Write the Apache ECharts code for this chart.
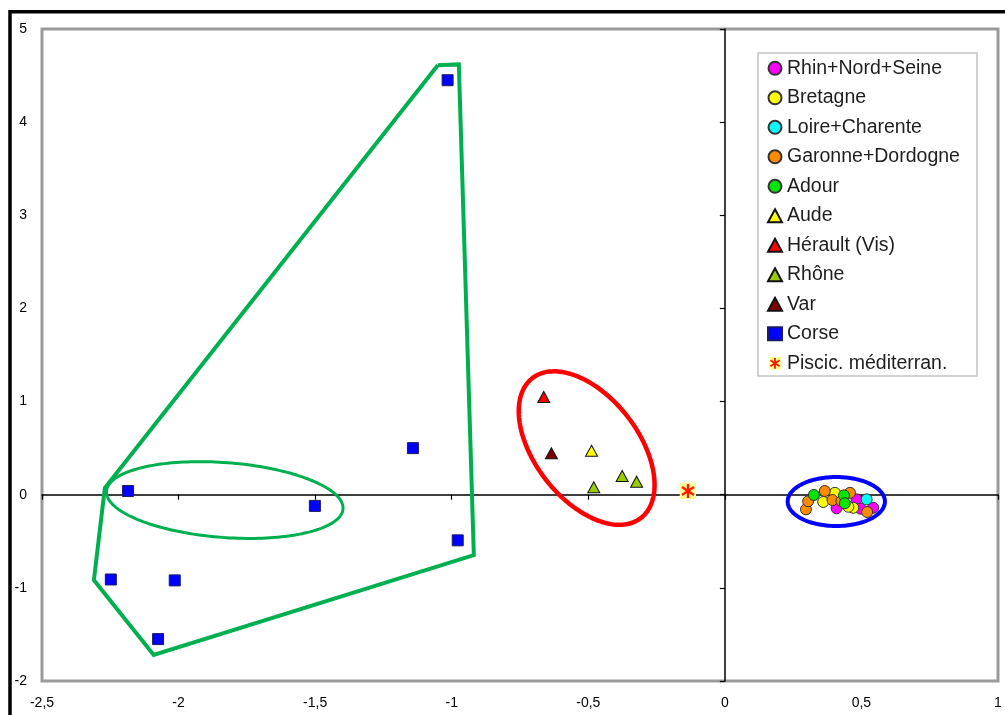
<!DOCTYPE html>
<html><head><meta charset="utf-8">
<script src="https://cdn.jsdelivr.net/npm/echarts@6/dist/echarts.min.js"></script>
<style>html,body{margin:0;padding:0;background:#fff}#c{width:1005px;height:715px}</style>
</head><body><div id="c"></div>
<script>
// ---- axis ticks ----
const X_TICKS = [-2.5, -2, -1.5, -1, -0.5, 0, 0.5, 1];
const Y_TICKS = [-2, -1, 0, 1, 2, 3, 4, 5];

// ---- series values [x, y] ----
const rhin     = [[0.409,-0.146],[0.482,-0.05],[0.497,-0.15],[0.543,-0.14]];
const bretagne = [[0.36,-0.078],[0.403,0.02],[0.47,-0.14],[0.452,-0.129]];
const loire    = [[0.519,-0.05]];
const garonne  = [[0.297,-0.157],[0.305,-0.07],[0.366,0.04],[0.394,-0.057],[0.427,-0.068],[0.458,0.02],[0.521,-0.186]];
const adour    = [[0.326,-0.003],[0.436,-0.007],[0.439,-0.092]];
const aude     = [[-0.488,0.472]];
const herault  = [[-0.663,1.05]];
const rhone    = [[-0.48,0.08],[-0.376,0.20],[-0.323,0.14]];
const varS     = [[-0.635,0.445]];
const corse    = [[-1.015,4.45],[-1.142,0.50],[-0.978,-0.49],[-1.501,-0.12],[-2.185,0.04],[-2.248,-0.91],[-2.014,-0.92],[-2.075,-1.55]];
const piscic   = [[-0.135,0.04]];

const NAMES = ['Rhin+Nord+Seine','Bretagne','Loire+Charente','Garonne+Dordogne','Adour','Aude','Hérault (Vis)','Rhône','Var','Corse','Piscic. méditerran.'];

// ---- annotation shapes (data coordinates) ----
const corseHull = [[-1.051,4.61],[-0.974,4.62],[-0.919,-0.648],[-2.091,-1.72],[-2.310,-0.916],[-2.270,0.072],[-1.051,4.61]];
const greenEllipse = {c:[-1.831,-0.057], u:[0.433,-0.0956], v:[-0.0103,-0.401]};
const redEllipse   = {c:[-0.506,0.501],  u:[0.199,-0.750],  v:[-0.149,-0.341]};
const blueEllipse  = {c:[0.408,-0.073],  u:[0.178,0],       v:[0,0.263]};

const FONT = 'Liberation Sans';
const fmt = v => String(v).replace('.', ',');

const starSvg = "<svg xmlns='http://www.w3.org/2000/svg' width='17' height='17' viewBox='0 0 17 17'>" +
  "<rect width='17' height='17' fill='#ffff99'/>" +
  "<g stroke='#ff1a00' stroke-width='2.4' stroke-linecap='butt'>" +
  "<line x1='8.5' y1='1.5' x2='8.5' y2='15.5'/><line x1='2.5' y1='4.5' x2='14.5' y2='12.5'/><line x1='14.5' y1='4.5' x2='2.5' y2='12.5'/></g></svg>";
const starSymbol = 'image://data:image/svg+xml;charset=utf-8,' + encodeURIComponent(starSvg);

function ellipseSeries(el, color, width) {
  return {
    type: 'custom', silent: true, clip: false, z: 2,
    data: [[el.c[0], el.c[1]]],
    renderItem: function (params, api) {
      const pts = [];
      for (let i = 0; i <= 180; i++) {
        const t = i / 180 * 2 * Math.PI;
        const x = el.c[0] + el.u[0] * Math.cos(t) + el.v[0] * Math.sin(t);
        const y = el.c[1] + el.u[1] * Math.cos(t) + el.v[1] * Math.sin(t);
        pts.push(api.coord([x, y]));
      }
      return {type: 'polygon', shape: {points: pts}, style: {fill: 'none', stroke: color, lineWidth: width}};
    }
  };
}

function circ(name, data, color) {
  return {name, type: 'scatter', data, symbol: 'circle', symbolSize: 11,
    itemStyle: {color, borderColor: '#333', borderWidth: 1, opacity: 1}, z: 4};
}
function tri(name, data, color) {
  return {name, type: 'scatter', data, symbol: 'triangle', symbolSize: [12, 11],
    itemStyle: {color, borderColor: '#111', borderWidth: 1, opacity: 1}, z: 4};
}

const chart = echarts.init(document.getElementById('c'));
chart.setOption({
  animation: false,
  backgroundColor: '#fff',
  grid: {left: 42, right: 7, top: 29, bottom: 34, show: true, borderColor: '#9a9a9a', borderWidth: 3, backgroundColor: '#fff'},
  xAxis: [
    {type: 'value', min: X_TICKS[0], max: X_TICKS[X_TICKS.length-1], interval: 0.5, position: 'bottom',
     axisLine: {show: false, onZero: false}, axisTick: {show: false}, splitLine: {show: false},
     axisLabel: {margin: 15, fontFamily: FONT, fontSize: 14, color: '#000', formatter: fmt}},
    {type: 'value', min: X_TICKS[0], max: X_TICKS[X_TICKS.length-1], interval: 0.5, position: 'bottom',
     axisLine: {show: true, onZero: true, lineStyle: {color: '#000', width: 1.5}},
     axisTick: {show: true, length: 5, lineStyle: {color: '#000', width: 1.2}},
     axisLabel: {show: false}, splitLine: {show: false}}
  ],
  yAxis: [
    {type: 'value', min: Y_TICKS[0], max: Y_TICKS[Y_TICKS.length-1], interval: 1, position: 'left',
     axisLine: {show: false, onZero: false}, axisTick: {show: false}, splitLine: {show: false},
     axisLabel: {margin: 15, fontFamily: FONT, fontSize: 14, color: '#000', formatter: fmt}},
    {type: 'value', min: Y_TICKS[0], max: Y_TICKS[Y_TICKS.length-1], interval: 1, position: 'left',
     axisLine: {show: true, onZero: true, lineStyle: {color: '#000', width: 1.5}},
     axisTick: {show: true, length: 5, lineStyle: {color: '#000', width: 1.2}},
     axisLabel: {show: false}, splitLine: {show: false}}
  ],
  legend: {
    orient: 'vertical', left: 767, top: 58.3, padding: 0, z: 20,
    itemWidth: 14, itemHeight: 13, itemGap: 9.5, selectedMode: false,
    textStyle: {fontFamily: FONT, fontSize: 19.5, lineHeight: 20, color: '#1e1e1e'},
    data: NAMES
  },
  graphic: [
    {type: 'rect', silent: true, z: 100, shape: {x: 10, y: 11.7, width: 1100, height: 1000},
     style: {fill: 'none', stroke: '#000', lineWidth: 3.5}},
    {type: 'rect', silent: true, z: 1, shape: {x: 758, y: 53, width: 219, height: 323},
     style: {fill: '#fff', stroke: '#c4c4c4', lineWidth: 1.5}}
  ],
  series: [
    {type: 'line', data: corseHull, symbol: 'none', silent: true, z: 2,
     lineStyle: {color: '#00b050', width: 4, join: 'miter'}},
    ellipseSeries(greenEllipse, '#00b050', 3),
    ellipseSeries(redEllipse, '#ff0000', 4.5),
    ellipseSeries(blueEllipse, '#0000ff', 4),
    circ(NAMES[0], rhin, '#ff00ff'),
    circ(NAMES[1], bretagne, '#ffff00'),
    circ(NAMES[2], loire, '#00ffff'),
    circ(NAMES[3], garonne, '#ff8c00'),
    circ(NAMES[4], adour, '#00e600'),
    tri(NAMES[5], aude, '#ffff00'),
    tri(NAMES[6], herault, '#ff0000'),
    tri(NAMES[7], rhone, '#99cc00'),
    tri(NAMES[8], varS, '#800000'),
    {name: NAMES[9], type: 'scatter', data: corse, symbol: 'rect', symbolSize: 11, z: 4,
     itemStyle: {color: '#0000ff', borderColor: '#1a1a66', borderWidth: 1, opacity: 1}},
    {name: NAMES[10], type: 'scatter', data: piscic, symbol: starSymbol, symbolSize: 17, z: 4,
     itemStyle: {color: '#ff1a00', opacity: 1}}
  ]
});
</script></body></html>
